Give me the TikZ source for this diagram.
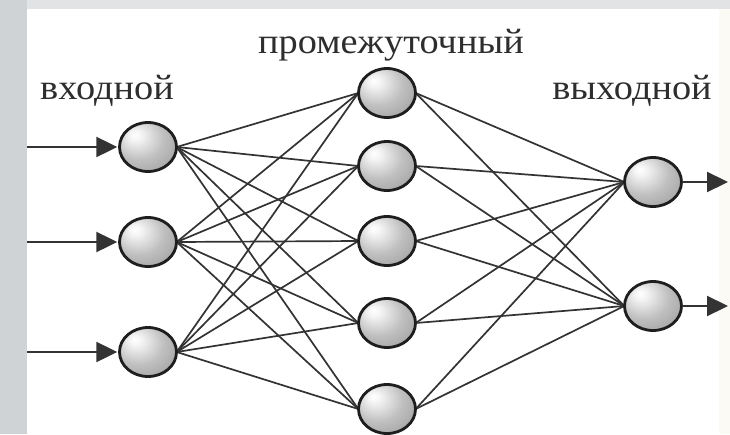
\documentclass[tikz,border=0pt]{standalone}
\usepackage{fontspec}
\setmainfont{Liberation Serif}
\usetikzlibrary{shapes.geometric,arrows.meta}

\definecolor{framegray}{HTML}{D0D3D6}
\definecolor{topgray}{HTML}{E1E3E5}
\definecolor{edgecream}{HTML}{FBFAF5}
\definecolor{linkcol}{HTML}{333333}
\definecolor{rimcol}{HTML}{1E1E1E}
\definecolor{labelcol}{HTML}{2E2E2E}

% soft grey sphere look for the neurons
\pgfdeclareradialshading{neuronball}{\pgfpoint{-12bp}{13bp}}{%
  color(0bp)=(white);
  color(5bp)=(white!96!black);
  color(22bp)=(black!25);
  color(45bp)=(black!42);
  color(70bp)=(black!52)}

\tikzset{
  neuron/.style={ellipse, minimum width=57pt, minimum height=49pt,
    inner sep=0pt, draw=rimcol, line width=2.8pt, shading=neuronball},
  link/.style={draw=linkcol, line width=1.7pt},
  signal/.style={draw=linkcol, line width=2.2pt,
    -{Triangle[length=21pt,width=20pt]}, shorten >=2pt},
  layername/.style={font=\fontsize{35.5}{40}\selectfont, text=labelcol,
    inner sep=0pt, anchor=base, xscale=1.08, transform shape}
}

\begin{document}
\begin{tikzpicture}[x=1pt,y=-1pt]
  % page frame
  \useasboundingbox (0,0) rectangle (730,434);
  \fill[framegray] (0,0) rectangle (730,434);
  \fill[topgray] (27,0) rectangle (730,9);
  \fill[edgecream] (27,9) rectangle (730,434);
  \fill[white] (27,9) rectangle (719,434);

  % neuron positions
  \coordinate (pi1) at (148,147);
  \coordinate (pi2) at (148,242);
  \coordinate (pi3) at (148,352);
  \coordinate (ph1) at (387,93);
  \coordinate (ph2) at (387,166);
  \coordinate (ph3) at (387,241);
  \coordinate (ph4) at (387,323);
  \coordinate (ph5) at (387,409);
  \coordinate (po1) at (653,182);
  \coordinate (po2) at (653,306);

  % full connections between layers
  \path \foreach \n in {i1,i2,i3,h1,h2,h3,h4,h5,o1,o2} {
    node[ellipse, minimum width=57pt, minimum height=49pt, inner sep=0pt] (\n) at (p\n) {}};
  \foreach \a in {i1,i2,i3}
    \foreach \b in {h1,h2,h3,h4,h5}
      \draw[link] (\a.east) -- (\b.west);
  \foreach \a in {h1,h2,h3,h4,h5}
    \foreach \b in {o1,o2}
      \draw[link] (\a.east) -- (\b.west);

  % neurons drawn above the links
  \foreach \n in {i1,i2,i3,h1,h2,h3,h4,h5,o1,o2}
    \node[neuron] at (\n) {};

  % inputs and outputs
  \coordinate (x1) at (27,147);
  \coordinate (x2) at (27,242);
  \coordinate (x3) at (27,352);
  \coordinate (y1) at (730,182);
  \coordinate (y2) at (730,306);
  \draw[signal] (x1) -- (i1.west);
  \draw[signal] (x2) -- (i2.west);
  \draw[signal] (x3) -- (i3.west);
  \draw[signal] (o1.east) -- (y1);
  \draw[signal] (o2.east) -- (y2);

  % layer names
  \node[layername] (tin) at (107,99) {входной};
  \node[layername] (thid) at (391,53) {промежуточный};
  \node[layername] (tout) at (632,99) {выходной};
\end{tikzpicture}
\end{document}
